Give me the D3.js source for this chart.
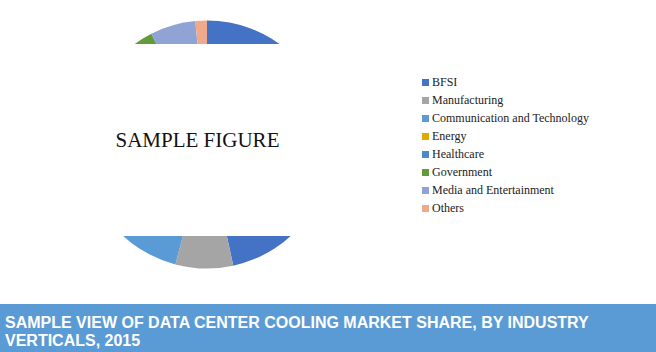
<!DOCTYPE html>
<html>
<head>
<meta charset="utf-8">
<script src="https://cdn.jsdelivr.net/npm/d3@7"></script>
<style>
  body { margin: 0; background: #fff; }
</style>
</head>
<body>
<div id="chart"></div>
<script>
// data
var categories = ["BFSI", "Manufacturing", "Communication and Technology", "Energy", "Healthcare", "Government", "Media and Entertainment", "Others"];
var shares = [46.6, 7.5, 17, 7, 8.5, 6, 5.9, 1.5];
var colors = ["#4472C4", "#A5A5A5", "#5B9BD5", "#E2AA00", "#4E8AC4", "#629B3C", "#8FA4D4", "#F1A98B"];
var titleLines = ["SAMPLE VIEW OF DATA CENTER COOLING MARKET SHARE, BY INDUSTRY", "VERTICALS, 2015"];

var width = 656, height = 352;

var svg = d3.select("#chart").append("svg")
  .attr("width", width)
  .attr("height", height);

// pie
var pie = d3.pie().sort(null).value(function(d) { return d; });
var arc = d3.arc().innerRadius(0).outerRadius(124);
var color = d3.scaleOrdinal().domain(categories).range(colors);

var g = svg.append("g").attr("transform", "translate(207,144.5)");
g.selectAll("path")
  .data(pie(shares))
  .enter().append("path")
  .attr("d", arc)
  .style("fill", function(d, i) { return color(categories[i]); });

// white box covering the middle
svg.append("rect")
  .attr("x", 0).attr("y", 44)
  .attr("width", 400).attr("height", 192)
  .style("fill", "#fff");

svg.append("text")
  .attr("x", 197.5).attr("y", 147)
  .attr("text-anchor", "middle")
  .style("font-family", "'Liberation Serif', 'Times New Roman', serif")
  .style("font-size", "21px")
  .style("fill", "#111")
  .text("SAMPLE FIGURE");

// legend
var y = d3.scaleBand().domain(categories).range([73, 217]);
var legend = svg.selectAll(".leg")
  .data(categories)
  .enter().append("g")
  .attr("transform", function(d) { return "translate(422," + y(d) + ")"; });
legend.append("rect")
  .attr("x", 0).attr("y", 6)
  .attr("width", 7).attr("height", 7)
  .style("fill", function(d) { return color(d); });
legend.append("text")
  .attr("x", 10).attr("y", 13)
  .style("font-family", "'Liberation Serif', 'Times New Roman', serif")
  .style("font-size", "12px")
  .style("fill", "#222")
  .text(function(d) { return d; });

// banner
svg.append("rect")
  .attr("x", 0).attr("y", 304)
  .attr("width", width).attr("height", 48)
  .style("fill", "#5B9BD5");

svg.selectAll(".title")
  .data(titleLines)
  .enter().append("text")
  .attr("x", 5)
  .attr("y", function(d, i) { return 328 + i * 18; })
  .style("font-family", "'Liberation Sans', Arial, sans-serif")
  .style("font-weight", "bold")
  .style("font-size", "16px")
  .style("fill", "#fff")
  .text(function(d) { return d; });
</script>
</body>
</html>
